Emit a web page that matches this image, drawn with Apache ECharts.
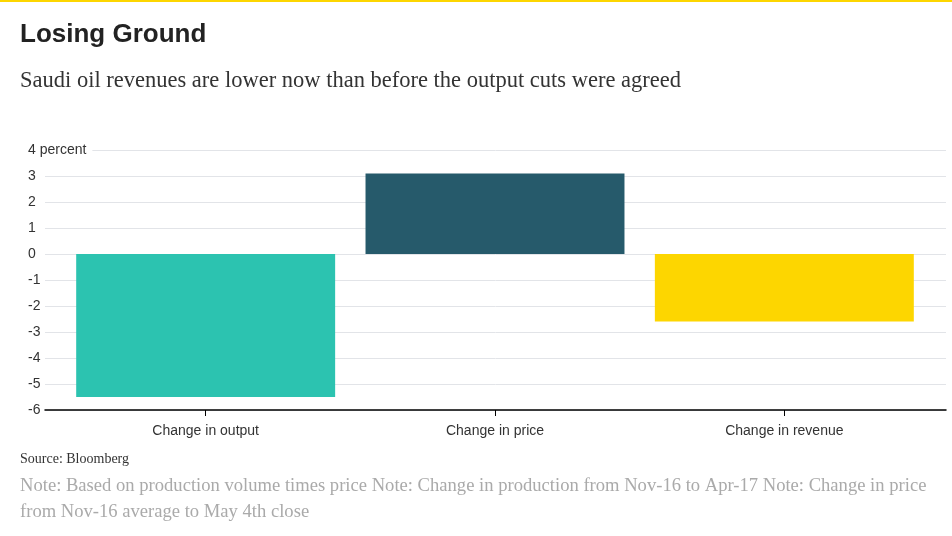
<!DOCTYPE html>
<html><head><meta charset="utf-8">
<script src="https://cdn.jsdelivr.net/npm/echarts@6/dist/echarts.min.js"></script>
<style>html,body{margin:0;padding:0;background:#fff}#c{width:952px;height:536px}</style>
</head><body><div id="c"></div>
<script>
const categories = ['Change in output', 'Change in price', 'Change in revenue'];
const values = [-5.5, 3.1, -2.6];
const barColors = ['#2cc3b0', '#265a6b', '#fdd600'];
const yTicks = { min: -6, max: 4, interval: 1 };
const titleText = 'Losing Ground';
const subtitleText = 'Saudi oil revenues are lower now than before the output cuts were agreed';
const sourceText = 'Source: Bloomberg';
const noteLines = ['Note: Based on production volume times price Note: Change in production from Nov-16 to Apr-17 Note: Change in price', 'from Nov-16 average to May 4th close'];

const chart = echarts.init(document.getElementById('c'));
chart.setOption({
  animation: false,
  backgroundColor: '#fff',
  graphic: [
    { type: 'rect', shape: { x: 0, y: 0, width: 952, height: 2 }, style: { fill: '#fdd600' } },
    { type: 'text', style: { text: titleText, x: 20, y: 35, font: 'bold 26px "Liberation Sans", Arial, sans-serif', fill: '#222', verticalAlign: 'middle' } },
    { type: 'text', style: { text: subtitleText, x: 20, y: 81, font: '22.5px "Liberation Serif", serif', fill: '#333', verticalAlign: 'middle' } },
    { type: 'text', style: { text: sourceText, x: 20, y: 459, font: '14px "Liberation Serif", serif', fill: '#333', verticalAlign: 'middle' } },
    { type: 'text', style: { text: noteLines[0], x: 20, y: 486, font: '18.6px "Liberation Serif", serif', fill: '#aaa', verticalAlign: 'middle' } },
    { type: 'text', style: { text: noteLines[1], x: 20, y: 512, font: '18.6px "Liberation Serif", serif', fill: '#aaa', verticalAlign: 'middle' } }
  ],
  grid: [
    { left: 45, right: 6, top: 150, height: 260 },
    { left: 61, right: 23, top: 150, height: 260 }
  ],
  xAxis: [
    { gridIndex: 0, type: 'category', data: [''], axisLine: { show: true, onZero: false, lineStyle: { color: '#000', width: 1.5 } }, axisTick: { show: false }, axisLabel: { show: false } },
    { gridIndex: 1, type: 'category', data: categories, axisLine: { show: false, onZero: false },
      axisTick: { show: true, alignWithLabel: true, length: 6, lineStyle: { color: '#000' } },
      axisLabel: { margin: 14, fontSize: 14, color: '#333', fontFamily: '"Liberation Sans", Arial, sans-serif' } }
  ],
  yAxis: [
    { gridIndex: 0, type: 'value', min: yTicks.min, max: yTicks.max, interval: yTicks.interval,
      axisLine: { show: false }, axisTick: { show: false },
      splitLine: { lineStyle: { color: '#e2e4e8', width: 1 } },
      axisLabel: { align: 'left', margin: 17, fontSize: 14, color: '#333', fontFamily: '"Liberation Sans", Arial, sans-serif',
        formatter: v => v === yTicks.max ? '{top|' + v + ' percent}' : String(v),
        rich: { top: { backgroundColor: '#fff', padding: [0, 6, 0, 0], fontSize: 14, color: '#333', fontFamily: '"Liberation Sans", Arial, sans-serif' } } } },
    { gridIndex: 1, type: 'value', min: yTicks.min, max: yTicks.max, interval: yTicks.interval, show: false, splitLine: { show: false } }
  ],
  series: [{
    type: 'bar', xAxisIndex: 1, yAxisIndex: 1, barCategoryGap: '10.5%',
    data: values.map((v, i) => ({ value: v, itemStyle: { color: barColors[i] } }))
  }]
});
</script></body></html>
